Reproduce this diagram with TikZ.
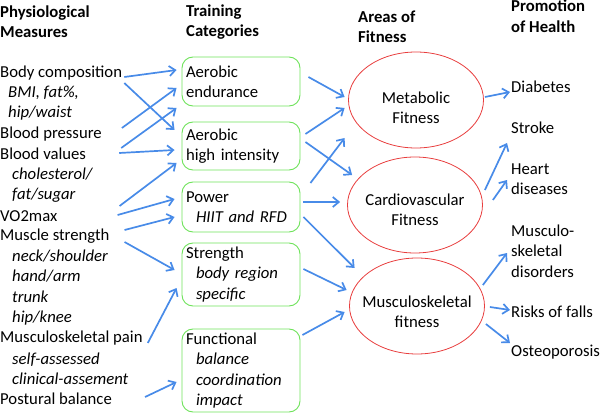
\documentclass[tikz,border=0pt]{standalone}
\usepackage{fontspec}
\setmainfont{Carlito}
\usetikzlibrary{arrows.meta,shapes.geometric,calc}

\definecolor{arrblue}{RGB}{72,139,232}
\definecolor{boxgreen}{RGB}{110,226,90}
\definecolor{ellred}{RGB}{232,62,62}

\tikzset{
  txt/.style={anchor=west,inner sep=0pt,align=left,font=\fontsize{16.7}{20.4}\selectfont},
  sub/.style={txt,font=\fontsize{16.7}{20.4}\selectfont\itshape},
  hdr/.style={txt,font=\fontsize{16.7}{20.4}\selectfont\bfseries},
  catbox/.style={draw=boxgreen,line width=0.9pt,rounded corners=11pt,text width=110pt,
    inner xsep=4pt,inner ysep=0pt,align=left,font=\fontsize{16.7}{20.4}\selectfont},
  areaell/.style={draw=ellred,line width=0.8pt,ellipse,inner sep=0pt,
    minimum width=135pt,minimum height=96pt},
  areatxt/.style={inner sep=0pt,align=center,font=\fontsize{16.7}{20.4}\selectfont},
  arr/.style={draw=arrblue,line width=1.7pt,-{Straight Barb[length=6pt,width=10pt]}}
}

\begin{document}
\begin{tikzpicture}[x=1pt,y=-1pt]
    \useasboundingbox (0,0) rectangle (600,417);

    % Headers
    \node[hdr] (hphys) at (0,22) {Physiological\\Measures};
    \node[hdr] (htrain) at (186,22) {Training\\Categories};
    \node[hdr] (harea) at (358,27) {Areas of\\Fitness};
    \node[hdr] (hhealth) at (511,16) {Promotion\\of Health};

    % Physiological measures
    \node[txt] (bc) at (0,73) {Body composition};
    \node[sub] (bcs) at (8,103) {BMI, fat\%,\\hip/waist};
    \node[txt] (bp) at (0,134) {Blood pressure};
    \node[txt] (bv) at (0,154) {Blood values};
    \node[sub] (bvs) at (12,185) {cholesterol/\\fat/sugar};
    \node[txt] (vo) at (0,216) {VO2max};
    \node[txt] (mst) at (0,236) {Muscle strength};
    \node[sub] (msts) at (12,287.5) {neck/shoulder\\hand/arm\\trunk\\hip/knee};
    \node[txt] (mp) at (0,338) {Musculoskeletal pain};
    \node[sub] (mps) at (12,368.5) {self-assessed\\clinical-assement};
    \node[txt] (pb) at (0,399) {Postural balance};

    % Training categories
    \node[catbox,minimum height=49pt] (ae) at (241,81.5) {Aerobic\\endurance};
    \node[catbox,minimum height=48pt] (ah) at (241,146) {Aerobic\\high intensity};
    \node[catbox,minimum height=50pt] (pw) at (241,207)
        {Power\\\hspace*{10pt}\textit{HIIT and RFD}};
    \node[catbox,minimum height=63pt] (st) at (241,274.5)
        {Strength\\\hspace*{10pt}\textit{body region}\\\hspace*{10pt}\textit{specific}};
    \node[catbox,minimum height=83pt] (fn) at (241,370.5)
        {Functional\\\hspace*{10pt}\textit{balance}\\\hspace*{10pt}\textit{coordination}\\\hspace*{10pt}\textit{impact}};

    % Areas of fitness
    \node[areaell] (met) at (416,100) {};
    \node[areatxt] (mettxt) at (416,108) {Metabolic\\Fitness};
    \node[areaell] (cv) at (415,205) {};
    \node[areatxt] (cvtxt) at (415,210) {Cardiovascular\\Fitness};
    \node[areaell] (msk) at (417,306) {};
    \node[areatxt] (msktxt) at (417,312) {Musculoskeletal\\fitness};

    % Promotion of health
    \node[txt] (dia) at (511,87) {Diabetes};
    \node[txt] (str) at (511,128) {Stroke};
    \node[txt] (hrt) at (511,179) {Heart\\diseases};
    \node[txt] (dis) at (511,251) {Musculo-\\skeletal\\disorders};
    \node[txt] (fal) at (511,312) {Risks of falls};
    \node[txt] (ost) at (511,352) {Osteoporosis};

    % Measures -> categories
    \draw[arr] ($(bc.east)+(2,4)$) -- ($(ae.west)+(-5,-11.5)$);
    \draw[arr] ($(bc.east)+(2,10)$) -- ($(ah.west)+(-7,-16)$);
    \draw[arr] ($(bp.east)+(20,-6)$) -- ($(ae.west)+(-5,6.5)$);
    \draw[arr] ($(bv.east)+(35,-6)$) -- ($(ae.west)+(-5,26.5)$);
    \draw[arr] ($(bv.east)+(33,-1)$) -- ($(ah.west)+(-7,4)$);
    \draw[arr] ($(vo.east)+(62,-10)$) -- ($(ah.west)+(-5,17)$);
    \draw[arr] ($(vo.east)+(60,-1)$) -- ($(pw.west)+(-7,-8)$);
    \draw[arr] ($(mst.east)+(15,-6)$) -- ($(pw.west)+(-7,10)$);
    \draw[arr] ($(mst.east)+(15,6)$) -- ($(st.west)+(-7,-4.5)$);
    \draw[arr] ($(mp.east)+(5,5)$) -- ($(st.west)+(-5,13.5)$);
    \draw[arr] ($(pb.east)+(33,-2)$) -- ($(fn.west)+(-5,11.5)$);

    % Categories -> areas
    \draw[arr] ($(ae.east)+(8,-4.5)$) -- ($(met.west)+(-3.5,-3)$);
    \draw[arr] ($(ah.east)+(5,-12)$) -- ($(met.west)+(-3.5,8)$);
    \draw[arr] ($(ah.east)+(5,-4)$) -- ($(cv.west)+(5,-30)$);
    \draw[arr] ($(pw.east)+(10,-24)$) -- ($(met.west)+(-3.5,38)$);
    \draw[arr] ($(pw.east)+(3,-5)$) -- ($(cv.west)+(-7,-3)$);
    \draw[arr] ($(pw.east)+(3,10)$) -- ($(msk.west)+(5.5,-38)$);
    \draw[arr] ($(st.east)+(3,-5.5)$) -- ($(msk.west)+(-2.5,-16)$);
    \draw[arr] ($(fn.east)+(2,-35.5)$) -- ($(msk.west)+(-4.5,6)$);

    % Areas -> health
    \draw[arr] ($(met.east)+(1,-3)$) -- ($(dia.west)+(-1,5)$);
    \draw[arr] ($(cv.east)+(2,-15)$) -- ($(str.west)+(-4,15)$);
    \draw[arr] ($(cv.east)+(10,-5)$) -- ($(hrt.west)+(-4,1)$);
    \draw[arr] ($(msk.east)+(-2,-21)$) -- ($(dis.west)+(-4,2)$);
    \draw[arr] ($(msk.east)+(5,1)$) -- ($(fal.west)+(-1,-2)$);
    \draw[arr] ($(msk.east)+(1,18)$) -- ($(ost.west)+(-1,-9)$);
\end{tikzpicture}
\end{document}
